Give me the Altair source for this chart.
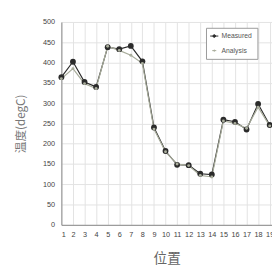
import altair as alt
import pandas as pd

positions = list(range(1, 20))
measured = [364, 402, 352, 340, 438, 433, 441, 403, 240, 182, 148, 147, 126, 124, 259, 254, 235, 298, 246]
analysis = [360, 385, 348, 336, 440, 430, 418, 398, 236, 180, 150, 146, 122, 118, 256, 250, 238, 290, 244]
series_names = ["Measured", "Analysis"]
y_ticks = list(range(0, 501, 50))

rows = []
for p, m, a in zip(positions, measured, analysis):
    rows.append({"pos": p, "value": m, "series": "Measured"})
    rows.append({"pos": p, "value": a, "series": "Analysis"})
df = pd.DataFrame(rows)

legend_path = "M -1.4 0 L 1.4 0 M 0.45 0 A 0.45 0.45 0 1 1 -0.45 0 A 0.45 0.45 0 1 1 0.45 0"

x_enc = alt.X(
    "pos:Q",
    scale=alt.Scale(domain=[1, 19.2], nice=False, zero=False),
    axis=alt.Axis(
        values=positions, title="位置", labelFontSize=7.5, labelColor="#444",
        labelPadding=6, ticks=False, domainColor="#888", gridColor="#e2e2e2",
        titleFontSize=14, titleColor="#666", titleFontWeight="normal",
        titlePadding=14, titleFont="Noto Sans CJK SC", labelFont="Liberation Sans",
        labelOverlap=False,
    ),
)
y_enc = alt.Y(
    "value:Q",
    scale=alt.Scale(domain=[0, 500], nice=False),
    axis=alt.Axis(
        values=y_ticks, title="温度(degC)", labelFontSize=7.5, labelColor="#444",
        labelPadding=7, ticks=False, domainColor="#888", gridColor="#e2e2e2",
        titleFontSize=12, titleColor="#777", titleFontWeight="normal",
        titlePadding=15, titleFont="Noto Sans CJK SC", labelFont="Liberation Sans",
    ),
)
color_scale = alt.Scale(domain=series_names, range=["#2b2b2b", "#a9ad9c"])
legend_def = alt.Legend(
    title=None, orient="none", legendX=149, legendY=6,
    symbolType=legend_path, symbolSize=60, symbolStrokeWidth=1,
    labelFontSize=7, labelColor="#555", strokeColor="#999",
    padding=5, rowPadding=7, labelFont="Liberation Sans",
    fillColor="white",
)

lines = alt.Chart(df).mark_line(strokeWidth=1.2).encode(
    x=x_enc, y=y_enc,
    color=alt.Color("series:N", scale=color_scale, legend=legend_def),
    detail="series:N",
)
points = alt.Chart(df).mark_point(filled=True, opacity=1).encode(
    x=x_enc, y=y_enc,
    color=alt.Color("series:N", scale=color_scale, legend=legend_def),
    size=alt.Size("series:N", scale=alt.Scale(domain=series_names, range=[36, 9]), legend=None),
)

chart = alt.layer(lines, points).properties(
    width=217, height=209,
    autosize=alt.AutoSizeParams(type="none"),
    padding={"left": 55, "top": 10.5, "right": 0, "bottom": 38.5},
).configure_view(stroke=None)

chart.save("out.html", embed_options={"renderer": "svg", "actions": False})
